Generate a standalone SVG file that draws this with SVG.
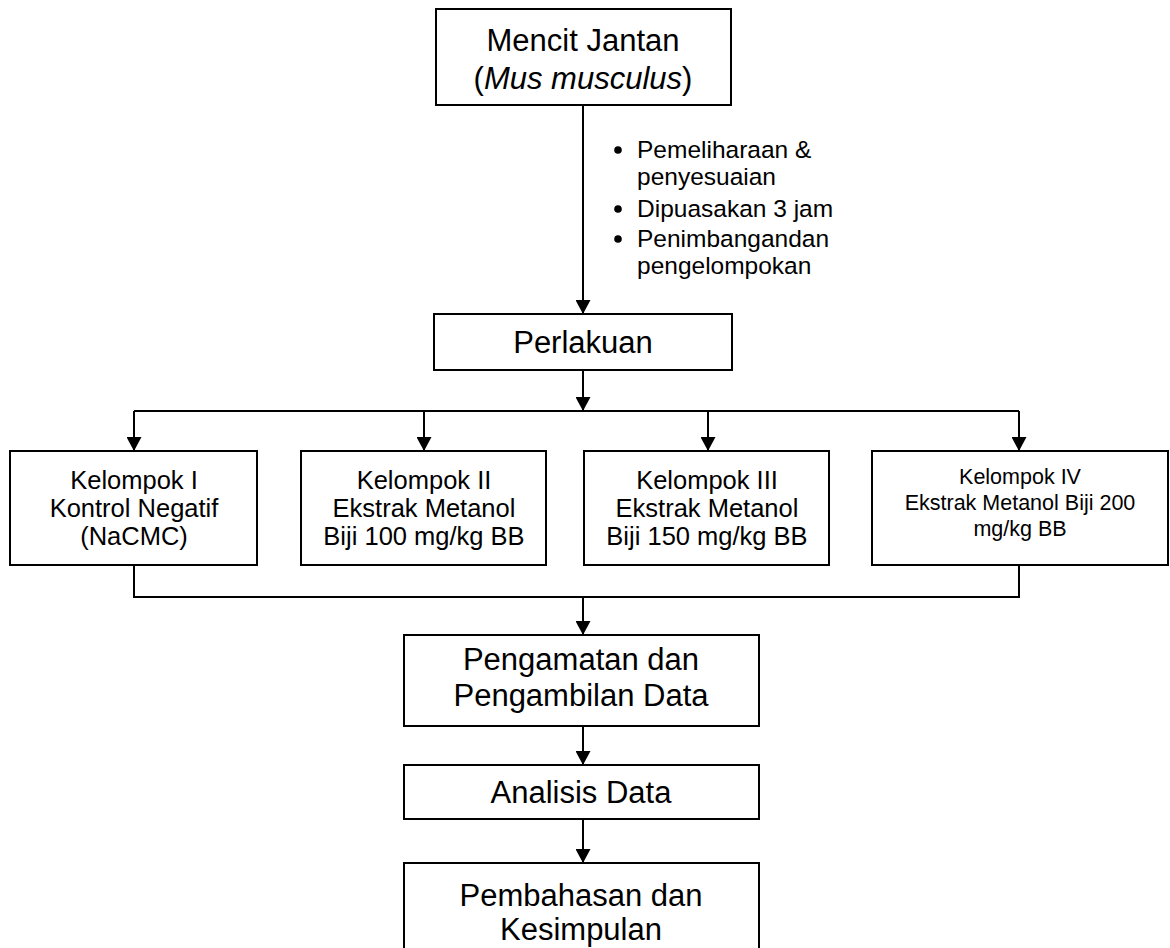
<svg xmlns="http://www.w3.org/2000/svg" width="1170" height="948" viewBox="0 0 1170 948">
<defs>
<marker id="ah" markerUnits="userSpaceOnUse" markerWidth="16" markerHeight="15" refX="14" refY="7.5" orient="auto" viewBox="0 0 14 15">
<path d="M0,0 L14,7.5 L0,15 Z" fill="#000"/>
</marker>
<style>
rect{fill:#fff;stroke:#000;stroke-width:2}
.c line,.c polyline{stroke:#000;stroke-width:2;fill:none}
.a{marker-end:url(#ah)}
text{font-family:"Liberation Sans",Arial,sans-serif;fill:#000}
.big{font-size:31px;text-anchor:middle}
.mid{font-size:25.5px;text-anchor:middle}
.sm{font-size:21.5px;text-anchor:middle}
.bl{font-size:24.5px}
</style>
</defs>
<rect x="0" y="0" width="1170" height="948" style="fill:#fff;stroke:none"/>
<g class="c" id="connectors">
<line class="a" x1="583" y1="105" x2="583" y2="314"/>
<line class="a" x1="583" y1="370" x2="583" y2="411"/>
<line x1="134" y1="411" x2="1019" y2="411"/>
<line class="a" x1="134" y1="411" x2="134" y2="451"/>
<line class="a" x1="424" y1="411" x2="424" y2="451"/>
<line class="a" x1="708" y1="411" x2="708" y2="451"/>
<line class="a" x1="1019" y1="411" x2="1019" y2="451"/>
<polyline points="134,565 134,597 1019,597 1019,565"/>
<line class="a" x1="583" y1="597" x2="583" y2="635"/>
<line class="a" x1="583" y1="726" x2="583" y2="765"/>
<line class="a" x1="583" y1="819" x2="583" y2="863"/>
</g>
<g id="mencit">
<rect x="436" y="9" width="295" height="96"/>
<text class="big" x="583" y="51">Mencit Jantan</text>
<text class="big" x="583" y="89">(<tspan font-style="italic">Mus musculus</tspan>)</text>
</g>
<g id="notes">
<circle cx="618" cy="150" r="3.8"/>
<text class="bl" x="637" y="158">Pemeliharaan &amp;</text>
<text class="bl" x="637" y="185">penyesuaian</text>
<circle cx="618" cy="209" r="3.8"/>
<text class="bl" x="637" y="217">Dipuasakan 3 jam</text>
<circle cx="618" cy="239" r="3.8"/>
<text class="bl" x="637" y="247">Penimbangandan</text>
<text class="bl" x="637" y="274">pengelompokan</text>
</g>
<g id="perlakuan">
<rect x="434" y="314" width="298" height="56"/>
<text class="big" x="583" y="353">Perlakuan</text>
</g>
<g id="k1">
<rect x="10" y="451" width="247" height="114"/>
<text class="mid" x="134" y="489">Kelompok I</text>
<text class="mid" x="134" y="517">Kontrol Negatif</text>
<text class="mid" x="134" y="545">(NaCMC)</text>
</g>
<g id="k2">
<rect x="301" y="451" width="245" height="114"/>
<text class="mid" x="424" y="489">Kelompok II</text>
<text class="mid" x="424" y="517">Ekstrak Metanol</text>
<text class="mid" x="424" y="545">Biji 100 mg/kg BB</text>
</g>
<g id="k3">
<rect x="584" y="451" width="245" height="114"/>
<text class="mid" x="707" y="489">Kelompok III</text>
<text class="mid" x="707" y="517">Ekstrak Metanol</text>
<text class="mid" x="707" y="545">Biji 150 mg/kg BB</text>
</g>
<g id="k4">
<rect x="872" y="451" width="296" height="114"/>
<text class="sm" x="1020" y="484">Kelompok IV</text>
<text class="sm" x="1020" y="510">Ekstrak Metanol Biji 200</text>
<text class="sm" x="1020" y="536">mg/kg BB</text>
</g>
<g id="pengamatan">
<rect x="404" y="635" width="355" height="91"/>
<text class="big" x="581" y="670">Pengamatan dan</text>
<text class="big" x="581" y="706">Pengambilan Data</text>
</g>
<g id="analisis">
<rect x="404" y="765" width="355" height="54"/>
<text class="big" x="581" y="803">Analisis Data</text>
</g>
<g id="pembahasan">
<rect x="404" y="863" width="355" height="100"/>
<text class="big" x="581" y="906">Pembahasan dan</text>
<text class="big" x="581" y="940">Kesimpulan</text>
</g>
</svg>
